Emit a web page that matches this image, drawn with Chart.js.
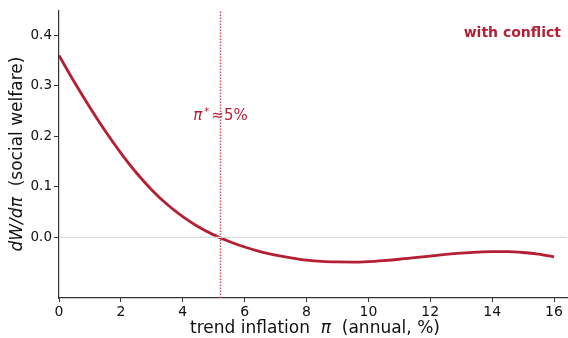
<!DOCTYPE html>
<html lang="en">
<head>
  <meta charset="UTF-8" />
  <title>dW/dpi with conflict</title>
  <script src="https://cdn.jsdelivr.net/npm/chart.js"></script>
  <style>
    html, body { margin: 0; padding: 0; background: #fff; }
    #wrap { width: 568px; height: 338px; }
  </style>
</head>
<body>
  <div id="wrap"><canvas id="chart" width="568" height="338"></canvas></div>

  <script>
    // trend inflation (annual, %) and the welfare derivative
    const inflation = [0, 0.5, 1, 1.5, 2, 2.5, 3, 3.5, 4, 4.5, 5, 5.5, 6, 6.5, 7, 7.5, 8, 8.5,
                       9, 9.5, 10, 10.5, 11, 11.5, 12, 12.5, 13, 13.5, 14, 14.5, 15, 15.5, 16];
    const dWdPi = [0.360, 0.307, 0.257, 0.210, 0.167, 0.128, 0.094, 0.065, 0.041, 0.021, 0.005,
                   -0.008, -0.019, -0.028, -0.035, -0.0405, -0.045, -0.0475, -0.0485, -0.0488,
                   -0.0478, -0.0458, -0.0433, -0.0402, -0.0369, -0.0338, -0.0312, -0.0292, -0.0281,
                   -0.0282, -0.0299, -0.0332, -0.0385];
    const piStar = 5.22;
    const xTicks = [0, 2, 4, 6, 8, 10, 12, 14, 16];
    const yTicks = [0, 0.1, 0.2, 0.3, 0.4];
    const xRange = [0, 16.42];
    const yRange = [-0.12, 0.45];

    const red = "#b41f33";
    const font = "'DejaVu Sans', sans-serif";

    // titles and annotations drawn by hand so the math parts can be italic
    function drawParts(ctx, parts, x, y, align) {
      let total = 0;
      parts.forEach(p => { ctx.font = p.f; total += ctx.measureText(p.t).width + (p.gap || 0); });
      let cx = align === "center" ? x - total / 2 : (align === "right" ? x - total : x);
      parts.forEach(p => {
        ctx.font = p.f;
        ctx.textAlign = "left";
        ctx.fillText(p.t, cx, y + (p.dy || 0));
        cx += ctx.measureText(p.t).width + (p.gap || 0);
      });
    }

    const textPlugin = {
      id: "texts",
      afterDraw(chart) {
        const ctx = chart.ctx;
        const area = chart.chartArea;
        const xs = chart.scales.x;
        ctx.save();
        ctx.textBaseline = "middle";

        // x axis title
        ctx.fillStyle = "#111";
        drawParts(ctx, [
          { t: "trend inflation  ", f: "17px " + font },
          { t: "π", f: "italic 17px " + font },
          { t: "  (annual, %)", f: "17px " + font }
        ], (area.left + area.right) / 2 + 2, 329, "center");

        // y axis title, rotated
        ctx.save();
        ctx.translate(18, (area.top + area.bottom) / 2);
        ctx.rotate(-Math.PI / 2);
        drawParts(ctx, [
          { t: "dW/dπ", f: "italic 17px " + font },
          { t: "  (social welfare)", f: "17px " + font }
        ], 0, 0, "center");
        ctx.restore();

        // pi star label
        ctx.fillStyle = red;
        drawParts(ctx, [
          { t: "π", f: "italic 15px " + font, gap: 2 },
          { t: "*", f: "10px " + font, dy: -4, gap: 2 },
          { t: "≈5%", f: "15px " + font }
        ], xs.getPixelForValue(piStar), 116, "center");

        // panel label
        ctx.font = "bold 14px " + font;
        ctx.textAlign = "right";
        ctx.fillText("with conflict", area.right - 6, 33);
        ctx.restore();
      }
    };

    new Chart(document.getElementById("chart"), {
      type: "line",
      data: {
        datasets: [
          {
            data: [{ x: xRange[0], y: 0 }, { x: xRange[1], y: 0 }],
            borderColor: "#d9d9d9",
            borderWidth: 1.3,
            pointRadius: 0
          },
          {
            data: [{ x: piStar, y: yRange[0] }, { x: piStar, y: yRange[1] }],
            borderColor: "#cc5566",
            borderWidth: 1.5,
            borderDash: [1.5, 1.5],
            pointRadius: 0
          },
          {
            data: inflation.map((v, i) => ({ x: v, y: dWdPi[i] })),
            borderColor: red,
            borderWidth: 2.8,
            pointRadius: 0,
            cubicInterpolationMode: "monotone"
          }
        ]
      },
      options: {
        responsive: false,
        animation: false,
        events: [],
        layout: { padding: { top: 8, right: 1, left: 0, bottom: 0 } },
        plugins: { legend: { display: false }, tooltip: { enabled: false } },
        scales: {
          x: {
            type: "linear",
            min: xRange[0],
            max: xRange[1],
            afterBuildTicks: s => { s.ticks = xTicks.map(v => ({ value: v })); },
            afterFit: s => { s.height = 40; },
            grid: { drawOnChartArea: false, drawTicks: true, tickLength: 4, color: "#333" },
            border: { display: true, color: "#333", width: 1.2 },
            ticks: { color: "#111", font: { family: font, size: 14 }, padding: 2, maxRotation: 0 }
          },
          y: {
            min: yRange[0],
            max: yRange[1],
            afterBuildTicks: s => { s.ticks = yTicks.map(v => ({ value: v })); },
            afterFit: s => { s.width = 59; },
            grid: { drawOnChartArea: false, drawTicks: true, tickLength: 5, color: "#333" },
            border: { display: true, color: "#333", width: 1.2 },
            ticks: {
              color: "#111",
              font: { family: font, size: 13.5 },
              padding: 2,
              callback: v => v.toFixed(1)
            }
          }
        }
      },
      plugins: [textPlugin]
    });
  </script>
</body>
</html>
